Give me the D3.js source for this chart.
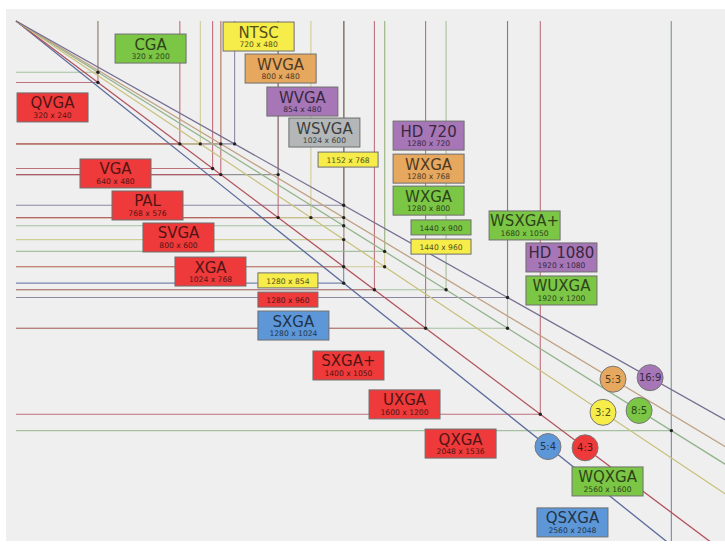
<!DOCTYPE html>
<html>
<head>
<meta charset="utf-8">
<script src="https://cdn.jsdelivr.net/npm/d3@7"></script>
<style>
body { margin: 0; background: #fff; }
svg text { font-family: "DejaVu Sans", sans-serif; }
</style>
</head>
<body>
<div id="chart"></div>
<script>

var width = 725,
    height = 546;

// resolutions, one entry per standard
var names   = ["CGA", "QVGA", "VGA", "NTSC", "PAL", "WVGA", "WVGA", "SVGA", "WSVGA", "XGA", "", "HD 720", "WXGA", "WXGA", "", "", "SXGA", "SXGA+", "", "", "UXGA", "WSXGA+", "HD 1080", "WUXGA", "QXGA", "WQXGA", "QSXGA"];
var resW    = [320, 320, 640, 720, 768, 800, 854, 800, 1024, 1024, 1152, 1280, 1280, 1280, 1280, 1280, 1280, 1400, 1440, 1440, 1600, 1680, 1920, 1920, 2048, 2560, 2560];
var resH    = [200, 240, 480, 480, 576, 480, 480, 600, 600, 768, 768, 720, 768, 800, 854, 960, 1024, 1050, 900, 960, 1200, 1050, 1080, 1200, 1536, 1600, 2048];
var aspect  = ["8:5", "4:3", "4:3", "3:2", "4:3", "5:3", "16:9", "4:3", "other", "4:3", "3:2", "16:9", "5:3", "8:5", "3:2", "4:3", "5:4", "4:3", "8:5", "3:2", "4:3", "8:5", "16:9", "8:5", "4:3", "8:5", "5:4"];

// where each label box sits (top-left, in pixel-resolution units)
var labX = [387, 4, 250, 809, 375, 895, 980, 496, 1066, 621, 1180, 1473, 1473, 1473, 945, 945, 945, 1160, 1543, 1543, 1379, 1848, 1992, 1992, 1598, 2172, 2035];
var labY = [51, 281, 539, 4, 664, 129, 258, 789, 379, 922, 512, 391, 520, 645, 984, 1059, 1133, 1289, 777, 852, 1441, 742, 867, 996, 1594, 1742, 1902];

// aspect ratio keys
var ratios     = ["5:4", "4:3", "3:2", "8:5", "5:3", "16:9"];
var ratioAt    = [2078, 2223, 2293, 2434, 2332, 2477];   // width where the round key sits on its line

var fillOf = {"4:3": "#ee3a3a", "5:4": "#5e97d8", "3:2": "#f6ec4a", "8:5": "#7cc646", "5:3": "#e6a75f", "16:9": "#a676b6", "other": "#b3b7b7"};
var lineOf = {"4:3": "#b3505c", "5:4": "#5b6d9c", "3:2": "#c9c27e", "8:5": "#93b58c", "5:3": "#bfa283", "16:9": "#756d90", "other": "#7a7a7a"};

function ratioVal (r) {
  var p = r.split(":");
  return +p[0] / +p[1];
}

var x = d3.scaleLinear().domain([0, 2800]).range([16, 16 + 2800 * 0.256]);
var y = d3.scaleLinear().domain([0, 2200]).range([21, 21 + 2200 * 0.256]);

var svg = d3.select("#chart").append("svg").attr("width", width).attr("height", height);

svg.append("defs").append("clipPath").attr("id", "plot")
  .append("rect").attr("x", 6).attr("y", 9).attr("width", 719).attr("height", 532);

svg.append("rect")
  .attr("x", 6).attr("y", 9).attr("width", 719).attr("height", 532)
  .attr("fill", "#efefef");

var g = svg.append("g").attr("clip-path", "url(#plot)");

var res = d3.range(names.length).map(function(i) {
  return {name: names[i], w: resW[i], h: resH[i], r: aspect[i], lx: labX[i], ly: labY[i]};
});

// drop lines: vertical from the top, horizontal from the left
var order = res.slice().sort(function(a, b) { return b.h - a.h; });

g.selectAll(".vline")
  .data(order)
  .enter()
  .append("line")
  .attr("x1", function(d) { return x(d.w); })
  .attr("x2", function(d) { return x(d.w); })
  .attr("y1", y(0))
  .attr("y2", function(d) { return y(d.h); })
  .attr("stroke", function(d) { return lineOf[d.r]; })
  .attr("stroke-opacity", 0.8)
  .attr("stroke-width", 1.1);

g.selectAll(".hline")
  .data(res.slice().sort(function(a, b) { return b.w - a.w; }))
  .enter()
  .append("line")
  .attr("x1", x(0))
  .attr("x2", function(d) { return x(d.w); })
  .attr("y1", function(d) { return y(d.h); })
  .attr("y2", function(d) { return y(d.h); })
  .attr("stroke", function(d) { return lineOf[d.r]; })
  .attr("stroke-opacity", 0.8)
  .attr("stroke-width", 1.1);

// ratio diagonals
g.selectAll(".diag")
  .data(ratios)
  .enter()
  .append("line")
  .attr("x1", x(0))
  .attr("y1", y(0))
  .attr("x2", x(3000))
  .attr("y2", function(d) { return y(3000 / ratioVal(d)); })
  .attr("stroke", function(d) { return lineOf[d]; })
  .attr("stroke-width", 1.3);

// corner dots
g.selectAll(".dot")
  .data(res)
  .enter()
  .append("circle")
  .attr("cx", function(d) { return x(d.w); })
  .attr("cy", function(d) { return y(d.h); })
  .attr("r", 1.7)
  .attr("fill", "#222");

// label boxes
var box = g.selectAll(".box")
  .data(res)
  .enter()
  .append("g")
  .attr("transform", function(d) { return "translate(" + x(d.lx) + "," + y(d.ly) + ")"; });

box.append("rect")
  .attr("width", function(d) { return d.name ? 71 : 60; })
  .attr("height", function(d) { return d.name ? 29 : 15; })
  .attr("fill", function(d) { return fillOf[d.r]; })
  .attr("stroke", "#6f6f6f")
  .attr("stroke-width", 1);

box.filter(function(d) { return d.name; })
  .append("text")
  .attr("x", 35.5)
  .attr("y", 15.5)
  .attr("text-anchor", "middle")
  .attr("font-size", "15px")
  .attr("fill", function(d) { return d3.color(fillOf[d.r]).darker(3); })
  .text(function(d) { return d.name; });

box.append("text")
  .attr("x", function(d) { return d.name ? 35.5 : 30; })
  .attr("y", function(d) { return d.name ? 25 : 10.8; })
  .attr("text-anchor", "middle")
  .attr("font-size", "7.6px")
  .attr("fill", function(d) { return d3.color(fillOf[d.r]).darker(3); })
  .text(function(d) { return d.w + " x " + d.h; });

// round ratio keys
var key = g.selectAll(".key")
  .data(ratios)
  .enter()
  .append("g")
  .attr("transform", function(d, i) {
    return "translate(" + x(ratioAt[i]) + "," + y(ratioAt[i] / ratioVal(d)) + ")";
  });

key.append("circle")
  .attr("r", 13)
  .attr("fill", function(d) { return fillOf[d]; })
  .attr("stroke", "#777")
  .attr("stroke-width", 1);

key.append("text")
  .attr("y", 3.5)
  .attr("text-anchor", "middle")
  .attr("font-size", "10px")
  .attr("fill", function(d) { return d3.color(fillOf[d]).darker(3); })
  .text(function(d) { return d; });

</script>
</body>
</html>
